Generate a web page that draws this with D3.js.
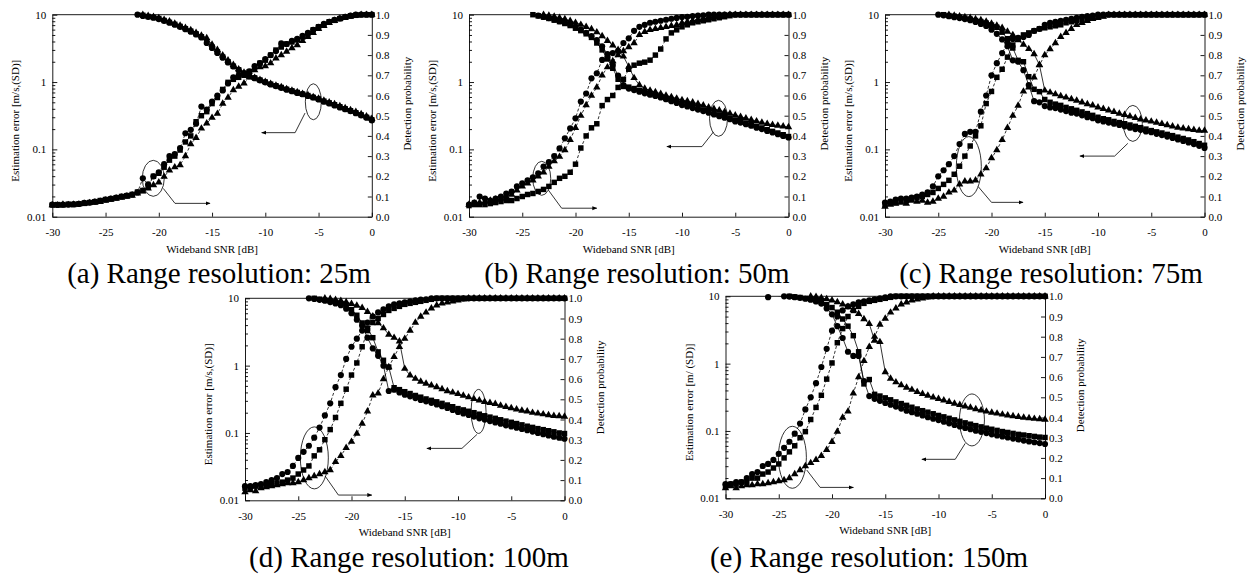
<!DOCTYPE html>
<html>
<head>
<meta charset="utf-8">
<script src="https://cdn.jsdelivr.net/npm/d3@7"></script>
<style>
  body { margin: 0; background: #fff; }
  svg { display: block; }
  text { font-family: "Liberation Serif", "Times New Roman", serif; fill: #000; }
</style>
</head>
<body>
<svg id="chart" width="1247" height="577"></svg>
<script>
// x grid (0.5 dB steps)
var snr = [-30,-29.5,-29,-28.5,-28,-27.5,-27,-26.5,-26,-25.5,
  -25,-24.5,-24,-23.5,-23,-22.5,-22,-21.5,-21,-20.5,
  -20,-19.5,-19,-18.5,-18,-17.5,-17,-16.5,-16,-15.5,
  -15,-14.5,-14,-13.5,-13,-12.5,-12,-11.5,-11,-10.5,
  -10,-9.5,-9,-8.5,-8,-7.5,-7,-6.5,-6,-5.5,
  -5,-4.5,-4,-3.5,-3,-2.5,-2,-1.5,-1,-0.5,0];
var xTicks = [-30,-25,-20,-15,-10,-5,0];
var errTicks = [0.01,0.1,1,10];
var errLabels = ['0.01','0.1','1','10'];
var errMinor = [0.02,0.03,0.04,0.05,0.06,0.07,0.08,0.09,0.2,0.3,0.4,0.5,0.6,0.7,0.8,0.9,2,3,4,5,6,7,8,9];
var probTicks = [0,0.1,0.2,0.3,0.4,0.5,0.6,0.7,0.8,0.9,1.0];
var captions = ['(a) Range resolution: 25m','(b) Range resolution: 50m','(c) Range resolution: 75m','(d) Range resolution: 100m','(e) Range resolution: 150m'];
var errTitles = ['Estimation error [m/s,(SD)]','Estimation error [m/s,(SD)]','Estimation error [m/s,(SD)]','Estimation error [m/s,(SD)]','Estimation error [m/ (SD)]'];

// estimation error [m/s], values above 10 are off the scale
// (a) 25m
var errA_c = [12,12,12,12,12,12,12,12,12,12, 12,12,12,12,12,10.6,10,9.6,9.3,9.0, 8.6,8.1,7.6,7.1,6.6,6.1,5.6,5.1,4.6,3.8, 3.2,2.7,2.3,1.95,1.7,1.5,1.33,1.22,1.14,1.06, 0.99,0.92,0.87,0.82,0.77,0.73,0.69,0.66,0.62,0.59, 0.55,0.51,0.48,0.45,0.42,0.395,0.37,0.345,0.32,0.295, 0.27];
var errA_s = [12,12,12,12,12,12,12,12,12,12, 12,12,12,12,12,11,10.2,9.8,9.4,9.1, 8.8,8.2,7.7,7.2,6.7,6.2,5.7,5.2,4.7,3.9, 3.3,2.8,2.35,2.0,1.72,1.52,1.35,1.23,1.15,1.07, 1.0,0.93,0.88,0.83,0.78,0.74,0.7,0.66,0.63,0.59, 0.56,0.52,0.49,0.46,0.43,0.4,0.375,0.35,0.325,0.3, 0.275];
var errA_t = [12,12,12,12,12,12,12,12,12,12, 12,12,12,12,12,12,10.4,10,9.6,9.3, 8.9,8.4,8.0,7.4,6.9,6.4,5.9,5.4,4.9,4.5, 3.6,3.0,2.5,2.1,1.8,1.55,1.38,1.25,1.16,1.08, 1.01,0.94,0.89,0.84,0.79,0.75,0.71,0.67,0.64,0.6, 0.57,0.53,0.5,0.47,0.44,0.41,0.385,0.36,0.335,0.31, 0.285];
// (b) 50m
var errB_c = [12,12,12,12,12,12,12,12,12,12, 12,12,12,9.7,9.3,8.9,8.5,8.0,7.6,7.1, 6.6,6.0,5.4,4.8,4.2,3.4,2.6,1.8,1.25,0.9, 0.8,0.76,0.72,0.68,0.65,0.62,0.59,0.555,0.52,0.49, 0.455,0.435,0.41,0.39,0.37,0.35,0.33,0.31,0.295,0.28, 0.26,0.25,0.237,0.225,0.21,0.2,0.188,0.178,0.168,0.158, 0.15];
var errB_s = [12,12,12,12,12,12,12,12,12,12, 12,12,10,9.6,9.2,8.8,8.3,7.9,7.4,6.9, 6.3,5.8,5.2,4.6,3.8,3.0,2.2,1.6,1.1,0.86, 0.84,0.8,0.75,0.71,0.67,0.64,0.61,0.57,0.54,0.51, 0.48,0.455,0.43,0.405,0.385,0.365,0.345,0.325,0.305,0.29, 0.272,0.258,0.245,0.232,0.22,0.208,0.196,0.185,0.175,0.165, 0.155];
var errB_t = [12,12,12,12,12,12,12,12,12,12, 12,12,12,12,10,9.7,9.4,9.0,8.6,8.1, 7.6,7.1,6.6,6.1,5.5,4.8,4.1,3.5,3.0,2.4, 1.7,1.15,0.9,0.8,0.75,0.71,0.67,0.63,0.6,0.57, 0.54,0.52,0.5,0.475,0.45,0.42,0.4,0.38,0.36,0.34, 0.32,0.305,0.29,0.275,0.262,0.25,0.24,0.232,0.225,0.22, 0.215];
// (c) 75m
var errC_c = [12,12,12,12,12,12,12,12,12,12, 10,9.8,9.5,9.2,8.9,8.6,8.3,7.8,7.3,6.8, 6.0,5.2,4.3,3.4,2.1,2.0,1.5,0.9,0.52,0.5, 0.44,0.42,0.41,0.39,0.37,0.35,0.34,0.32,0.3,0.29, 0.27,0.26,0.25,0.24,0.23,0.22,0.21,0.2,0.195,0.185, 0.18,0.17,0.163,0.155,0.148,0.14,0.133,0.127,0.12,0.113, 0.105];
var errC_s = [12,12,12,12,12,12,12,12,12,12, 12,10,9.7,9.5,9.2,8.9,8.6,8.2,7.9,7.5, 7.0,6.5,5.5,4.4,3.2,2.1,2.0,1.2,0.78,0.72, 0.55,0.5,0.47,0.45,0.42,0.4,0.38,0.36,0.34,0.32, 0.3,0.285,0.275,0.26,0.25,0.24,0.23,0.22,0.21,0.2, 0.19,0.182,0.175,0.167,0.16,0.152,0.145,0.138,0.13,0.122, 0.115];
var errC_t = [12,12,12,12,12,12,12,12,12,12, 12,12,10,9.7,9.5,9.2,9.0,8.6,8.3,7.9, 7.4,6.9,6.4,5.6,5.0,4.2,3.6,3.1,2.6,1.8, 0.75,0.7,0.66,0.62,0.59,0.56,0.53,0.5,0.47,0.45, 0.42,0.4,0.38,0.36,0.34,0.325,0.31,0.295,0.28,0.27, 0.26,0.25,0.24,0.23,0.22,0.21,0.205,0.2,0.195,0.19, 0.19];
// (d) 100m
var errD_c = [12,12,12,12,12,12,12,12,12,12, 12,12,10,9.8,9.5,9.2,8.8,8.4,7.9,7.0, 6.0,4.8,3.9,2.6,1.8,1.4,1.0,0.42,0.44,0.4, 0.37,0.35,0.33,0.31,0.295,0.28,0.265,0.25,0.235,0.22, 0.205,0.195,0.185,0.175,0.165,0.158,0.15,0.143,0.137,0.13, 0.125,0.12,0.115,0.11,0.105,0.1,0.096,0.092,0.088,0.085, 0.082];
var errD_s = [12,12,12,12,12,12,12,12,12,12, 12,12,12,10,9.7,9.4,9.1,8.7,8.3,7.7, 6.8,5.6,4.3,3.6,2.6,1.6,1.2,0.95,0.47,0.44, 0.41,0.385,0.36,0.34,0.32,0.305,0.29,0.275,0.26,0.245, 0.23,0.22,0.21,0.2,0.19,0.18,0.172,0.165,0.157,0.15, 0.144,0.138,0.132,0.126,0.121,0.116,0.112,0.108,0.104,0.1, 0.098];
var errD_t = [12,12,12,12,12,12,12,12,12,12, 12,12,12,12,12,10,9.8,9.5,9.2,8.8, 8.3,7.8,7.2,6.3,5.4,4.3,3.6,2.9,2.6,2.3, 0.9,0.72,0.64,0.58,0.54,0.51,0.48,0.45,0.42,0.4, 0.38,0.36,0.34,0.32,0.305,0.29,0.28,0.27,0.255,0.245, 0.235,0.225,0.215,0.21,0.2,0.195,0.19,0.185,0.18,0.178, 0.175];
// (e) 150m
var errE_c = [12,12,12,12,12,12,12,12,9.7,10.5, 10.2,10,9.9,9.7,9.5,9.2,8.9,8.4,7.8,6.6, 5.4,3.6,2.4,1.5,1.3,1.3,0.55,0.33,0.3,0.28, 0.26,0.245,0.23,0.215,0.2,0.19,0.18,0.17,0.16,0.152, 0.145,0.137,0.13,0.123,0.117,0.111,0.106,0.101,0.097,0.093, 0.089,0.086,0.083,0.08,0.077,0.075,0.072,0.07,0.068,0.066, 0.064];
var errE_s = [12,12,12,12,12,12,12,12,12,12, 12,12,10,9.8,9.6,9.3,9.0,8.6,8.1,7.5, 6.8,5.8,4.6,3.6,2.6,1.5,0.5,0.58,0.35,0.33, 0.31,0.29,0.27,0.255,0.24,0.225,0.212,0.2,0.19,0.18, 0.17,0.162,0.154,0.146,0.139,0.132,0.126,0.12,0.115,0.11, 0.106,0.102,0.098,0.095,0.092,0.089,0.087,0.085,0.083,0.081, 0.08];
var errE_t = [12,12,12,12,12,12,12,12,12,12, 12,12,12,12,12,12,10,9.8,9.5,9.1, 8.7,8.2,7.6,7.0,6.3,5.5,4.6,3.9,2.2,2.1, 0.75,0.6,0.53,0.48,0.44,0.41,0.38,0.355,0.335,0.315, 0.3,0.285,0.27,0.255,0.245,0.232,0.222,0.212,0.203,0.195, 0.188,0.182,0.176,0.171,0.166,0.162,0.158,0.155,0.152,0.15, 0.148];

// detection probability
var detA_c = [.06,.058,.06,.06,.062,.063,.068,.07,.075,.078, .085,.09,.095,.1,.105,.11,.12,.19,.16,.2, .22,.26,.3,.31,.34,.413,.43,.46,.545,.53, .57,.6,.625,.66,.69,.7,.71,.72,.745,.76, .78,.8,.82,.858,.855,.87,.88,.895,.91,.925, .94,.955,.965,.975,.982,.99,.995,1,1,1, 1];
var detA_s = [.058,.06,.058,.062,.06,.064,.066,.07,.074,.08, .085,.088,.094,.1,.104,.11,.122,.13,.15,.2, .215,.245,.28,.3,.33,.37,.4,.47,.5,.52, .56,.59,.63,.665,.68,.69,.7,.718,.74,.76, .775,.8,.825,.84,.855,.865,.875,.89,.905,.925, .94,.95,.965,.972,.98,.988,.994,.997,1,1, 1];
var detA_t = [.058,.056,.06,.058,.06,.062,.064,.068,.07,.074, .08,.085,.09,.095,.1,.105,.115,.125,.14,.157, .17,.198,.23,.245,.256,.3,.36,.39,.437,.462, .49,.51,.56,.59,.627,.644,.66,.69,.726,.74, .745,.76,.784,.8,.817,.835,.85,.87,.89,.91, .93,.945,.96,.97,.98,.985,.99,.995,1,1, 1];
var detB_c = [.06,.07,.1,.09,.08,.09,.1,.115,.124,.15, .165,.18,.195,.215,.248,.27,.3,.338,.388,.437, .487,.57,.61,.685,.71,.776,.79,.81,.82,.86, .883,.92,.94,.95,.96,.965,.97,.975,.98,.984, .988,.99,.993,.995,.997,1,1,1,1,1, 1,1,1,1,1,1,1,1,1,1, 1];
var detB_s = [.055,.06,.06,.06,.065,.07,.075,.08,.08,.09, .1,.11,.115,.125,.135,.15,.17,.19,.2,.22, .26,.34,.4,.44,.46,.55,.58,.6,.64,.68, .73,.75,.76,.765,.775,.8,.83,.88,.91,.925, .94,.95,.96,.965,.97,.975,.98,.985,.99,.995, 1,1,1,1,1,1,1,1,1,1, 1];
var detB_t = [.06,.065,.07,.075,.08,.085,.09,.1,.11,.13, .15,.165,.18,.2,.22,.248,.275,.297,.33,.38, .44,.5,.553,.6,.64,.7,.74,.77,.8,.82, .84,.86,.9,.915,.925,.93,.935,.94,.945,.95, .96,.965,.97,.975,.98,.985,.99,.993,.996,1, 1,1,1,1,1,1,1,1,1,1, 1];
var detC_c = [.07,.075,.085,.09,.09,.095,.1,.11,.12,.15, .2,.23,.26,.3,.36,.41,.42,.42,.52,.6, .7,.76,.81,.86,.88,.885,.89,.9,.92,.93, .95,.96,.965,.97,.975,.98,.985,.99,.993,.996, 1,1,1,1,1,1,1,1,1,1, 1,1,1,1,1,1,1,1,1,1, 1];
var detC_s = [.06,.07,.07,.08,.08,.09,.095,.1,.11,.12, .14,.16,.18,.21,.25,.3,.35,.4,.45,.56, .62,.69,.73,.79,.85,.88,.9,.91,.92,.93, .935,.94,.945,.95,.96,.965,.97,.975,.98,.985, .99,.995,1,1,1,1,1,1,1,1, 1,1,1,1,1,1,1,1,1,1, 1];
var detC_t = [.05,.06,.065,.07,.065,.08,.075,.08,.07,.075, .09,.1,.12,.13,.16,.175,.175,.18,.21,.24, .29,.33,.38,.44,.5,.55,.62,.64,.69,.75, .8,.83,.86,.89,.91,.93,.95,.96,.97,.98, .985,.99,1,1,1,1,1,1,1,1, 1,1,1,1,1,1,1,1,1,1, 1];
var detD_c = [.07,.07,.075,.08,.09,.1,.11,.13,.14,.17, .21,.24,.27,.31,.36,.42,.48,.56,.62,.7, .76,.8,.84,.88,.91,.93,.945,.96,.97,.975, .98,.985,.99,.993,.995,1,1,1,1,1, 1,1,1,1,1,1,1,1,1,1, 1,1,1,1,1,1,1,1,1,1, 1];
var detD_s = [.06,.065,.07,.07,.075,.08,.085,.09,.1,.11, .13,.15,.17,.22,.25,.3,.35,.41,.48,.55, .62,.68,.76,.84,.88,.9,.92,.94,.95,.96, .97,.975,.98,.985,.99,.995,1,1,1,1, 1,1,1,1,1,1,1,1,1,1, 1,1,1,1,1,1,1,1,1,1, 1];
var detD_t = [.04,.05,.045,.06,.065,.07,.075,.08,.085,.085, .09,.1,.11,.12,.13,.14,.15,.19,.22,.26, .29,.33,.38,.44,.52,.53,.6,.66,.71,.76, .8,.84,.88,.91,.93,.95,.965,.975,.98,.985, .99,.995,1,1,1,1,1,1,1,1, 1,1,1,1,1,1,1,1,1,1, 1];
var detE_c = [.07,.07,.08,.08,.1,.12,.13,.16,.17,.19, .22,.25,.28,.32,.37,.44,.5,.57,.65,.74, .83,.9,.93,.95,.96,.97,.975,.98,.985,.99, .995,1,1,1,1,1,1,1,1,1, 1,1,1,1,1,1,1,1,1,1, 1,1,1,1,1,1,1,1,1,1, 1];
var detE_s = [.06,.07,.07,.08,.08,.1,.1,.12,.13,.15, .17,.2,.23,.26,.3,.33,.39,.45,.51,.59, .67,.77,.84,.9,.93,.95,.965,.975,.98,.985, .99,.995,1,1,1,1,1,1,1,1, 1,1,1,1,1,1,1,1,1,1, 1,1,1,1,1,1,1,1,1,1, 1];
var detE_t = [.05,.06,.05,.06,.065,.065,.07,.07,.075,.08, .085,.09,.1,.12,.14,.16,.175,.19,.21,.24, .28,.33,.4,.43,.52,.6,.68,.75,.8,.86, .89,.92,.94,.96,.97,.98,.985,.99,.995,1, 1,1,1,1,1,1,1,1,1,1, 1,1,1,1,1,1,1,1,1,1, 1];

var W = 319.5, H = 202;
var panels = [
  {left: 52.3, top: 14.7, capX: 219, capY: 283, err: [errA_c, errA_s, errA_t], det: [detA_c, detA_s, detA_t],
   ell: [[-5.49, 0.569, 8, 18], [-20.52, 0.19, 11, 18]],
   arrows: [[[-6.27,0.513],[-7.2,0.416],[-10.34,0.416]], [[-19.58,0.14],[-18.48,0.066],[-15.19,0.066]]]},
  {left: 469, top: 14.7, capX: 637, capY: 283, err: [errB_c, errB_s, errB_t], det: [detB_c, detB_s, detB_t],
   ell: [[-6.57, 0.487, 9, 18], [-23.17, 0.19, 9, 17]],
   arrows: [[[-7.04,0.42],[-8.13,0.347],[-11.42,0.347]], [[-22.55,0.132],[-21.3,0.042],[-18.0,0.042]]]},
  {left: 885, top: 14.7, capX: 1051, capY: 283, err: [errC_c, errC_s, errC_t], det: [detC_c, detC_s, detC_t],
   ell: [[-6.73, 0.462, 9.5, 18], [-22.13, 0.248, 12.5, 30]],
   arrows: [[[-7.2,0.363],[-8.44,0.3],[-11.7,0.3]], [[-21.25,0.149],[-20.0,0.071],[-17.04,0.071]]]},
  {left: 245, top: 298.3, capX: 409, capY: 567, err: [errD_c, errD_s, errD_t], det: [detD_c, detD_s, detD_t],
   ell: [[-8.07, 0.44, 7.5, 22], [-23.49, 0.21, 14, 31]],
   arrows: [[[-8.22,0.326],[-9.63,0.257],[-12.92,0.257]], [[-22.48,0.12],[-21.23,0.026],[-18.09,0.026]]]},
  {left: 725.5, top: 296.3, capX: 869, capY: 567, err: [errE_c, errE_s, errE_t], det: [detE_c, detE_s, detE_t],
   ell: [[-6.86, 0.388, 12.5, 26], [-23.72, 0.203, 14, 31]],
   arrows: [[[-7.49,0.272],[-8.43,0.193],[-11.56,0.193]], [[-22.37,0.14],[-21.12,0.054],[-17.99,0.054]]]}
];

var svg = d3.select('#chart');
svg.append('rect').attr('width', 1247).attr('height', 577).attr('fill', '#fff');
svg.append('defs').append('marker')
  .attr('id', 'arr').attr('viewBox', '0 0 10 10').attr('refX', 9).attr('refY', 5)
  .attr('markerWidth', 5).attr('markerHeight', 5).attr('markerUnits', 'userSpaceOnUse')
  .attr('orient', 'auto')
  .append('path').attr('d', 'M0,1L10,5L0,9Z').attr('fill', '#000');

var shapes = [d3.symbolCircle, d3.symbolSquare, d3.symbolTriangle];
var sizes = [30, 30, 24];

function styleAxis(sel){
  sel.attr('font-family', '"Liberation Serif","Times New Roman",serif').attr('font-size', 11);
  sel.selectAll('path,line').attr('stroke', '#000').attr('stroke-width', 0.9);
  sel.selectAll('text').attr('fill', '#000');
}

panels.forEach(function(p, pi){
  var g = svg.append('g').attr('transform', 'translate(' + p.left + ',' + p.top + ')');
  var x = d3.scaleLinear().domain([-30, 0]).range([0, W]);
  var yE = d3.scaleLog().domain([0.01, 10]).range([H, 0]);
  var yP = d3.scaleLinear().domain([0, 1]).range([H, 0]);

  var clipId = 'clip' + pi;
  g.append('clipPath').attr('id', clipId).append('rect').attr('width', W).attr('height', H);

  // axes
  g.append('g').call(d3.axisLeft(yE).tickValues(errMinor).tickFormat('').tickSizeInner(-3).tickSizeOuter(0))
    .call(styleAxis).select('.domain').remove();
  g.append('g').call(d3.axisLeft(yE).tickValues(errTicks).tickFormat(function(d, i){ return errLabels[i]; })
    .tickSizeInner(-5).tickSizeOuter(0).tickPadding(6)).call(styleAxis);
  g.append('g').attr('transform', 'translate(' + W + ',0)')
    .call(d3.axisRight(yP).tickValues(probTicks).tickFormat(d3.format('.1f')).tickSizeInner(-4).tickSizeOuter(0).tickPadding(4))
    .call(styleAxis);
  g.append('g').attr('transform', 'translate(0,' + H + ')')
    .call(d3.axisBottom(x).tickValues(xTicks).tickFormat(function(d){ return String(d); })
      .tickSizeInner(-4).tickSizeOuter(0).tickPadding(12))
    .call(styleAxis);
  g.append('line').attr('x1', 0).attr('x2', W).attr('y1', 0).attr('y2', 0)
    .attr('stroke', '#000').attr('stroke-width', 0.9);

  // axis titles
  g.append('text').attr('x', W / 2).attr('y', H + 36).attr('text-anchor', 'middle')
    .attr('font-size', 11).text('Wideband SNR [dB]');
  g.append('text').attr('transform', 'translate(-33,' + (H / 2 + 5) + ') rotate(-90)')
    .attr('text-anchor', 'middle').attr('font-size', 11).text(errTitles[pi]);
  g.append('text').attr('transform', 'translate(' + (W + 39) + ',' + (H / 2 - 12) + ') rotate(-90)')
    .attr('text-anchor', 'middle').attr('font-size', 11).text('Detection probability');

  // lines
  var errLine = d3.line().x(function(d, i){ return x(snr[i]); }).y(function(d){ return yE(d); });
  var detLine = d3.line().x(function(d, i){ return x(snr[i]); }).y(function(d){ return yP(d); });
  p.err.forEach(function(s){
    g.append('path').attr('d', errLine(s)).attr('fill', 'none').attr('stroke', '#000')
      .attr('stroke-width', 0.8).attr('clip-path', 'url(#' + clipId + ')');
  });
  p.det.forEach(function(s){
    g.append('path').attr('d', detLine(s)).attr('fill', 'none').attr('stroke', '#000')
      .attr('stroke-width', 0.8).attr('stroke-dasharray', '3,2');
  });

  // markers
  p.err.forEach(function(s, k){
    var pts = s.map(function(v, i){ return {x: snr[i], v: v}; }).filter(function(d){ return d.v <= 10.05; });
    g.append('g').selectAll('path').data(pts).enter().append('path')
      .attr('transform', function(d){ return 'translate(' + x(d.x) + ',' + yE(d.v) + ')'; })
      .attr('d', d3.symbol().type(shapes[k]).size(sizes[k])).attr('fill', '#000');
  });
  p.det.forEach(function(s, k){
    var pts = s.map(function(v, i){ return {x: snr[i], v: v}; });
    g.append('g').selectAll('path').data(pts).enter().append('path')
      .attr('transform', function(d){ return 'translate(' + x(d.x) + ',' + yP(d.v) + ')'; })
      .attr('d', d3.symbol().type(shapes[k]).size(sizes[k])).attr('fill', '#000');
  });

  // annotations: ellipses and arrows
  p.ell.forEach(function(e){
    g.append('ellipse').attr('cx', x(e[0])).attr('cy', yP(e[1])).attr('rx', e[2]).attr('ry', e[3])
      .attr('fill', 'none').attr('stroke', '#000').attr('stroke-width', 0.8);
  });
  var arrLine = d3.line().x(function(d){ return x(d[0]); }).y(function(d){ return yP(d[1]); });
  p.arrows.forEach(function(a){
    g.append('path').attr('d', arrLine(a)).attr('fill', 'none').attr('stroke', '#000')
      .attr('stroke-width', 0.8).attr('marker-end', 'url(#arr)');
  });

  svg.append('text').attr('x', p.capX).attr('y', p.capY).attr('text-anchor', 'middle')
    .attr('font-size', 29).text(captions[pi]);
});
</script>
</body>
</html>
